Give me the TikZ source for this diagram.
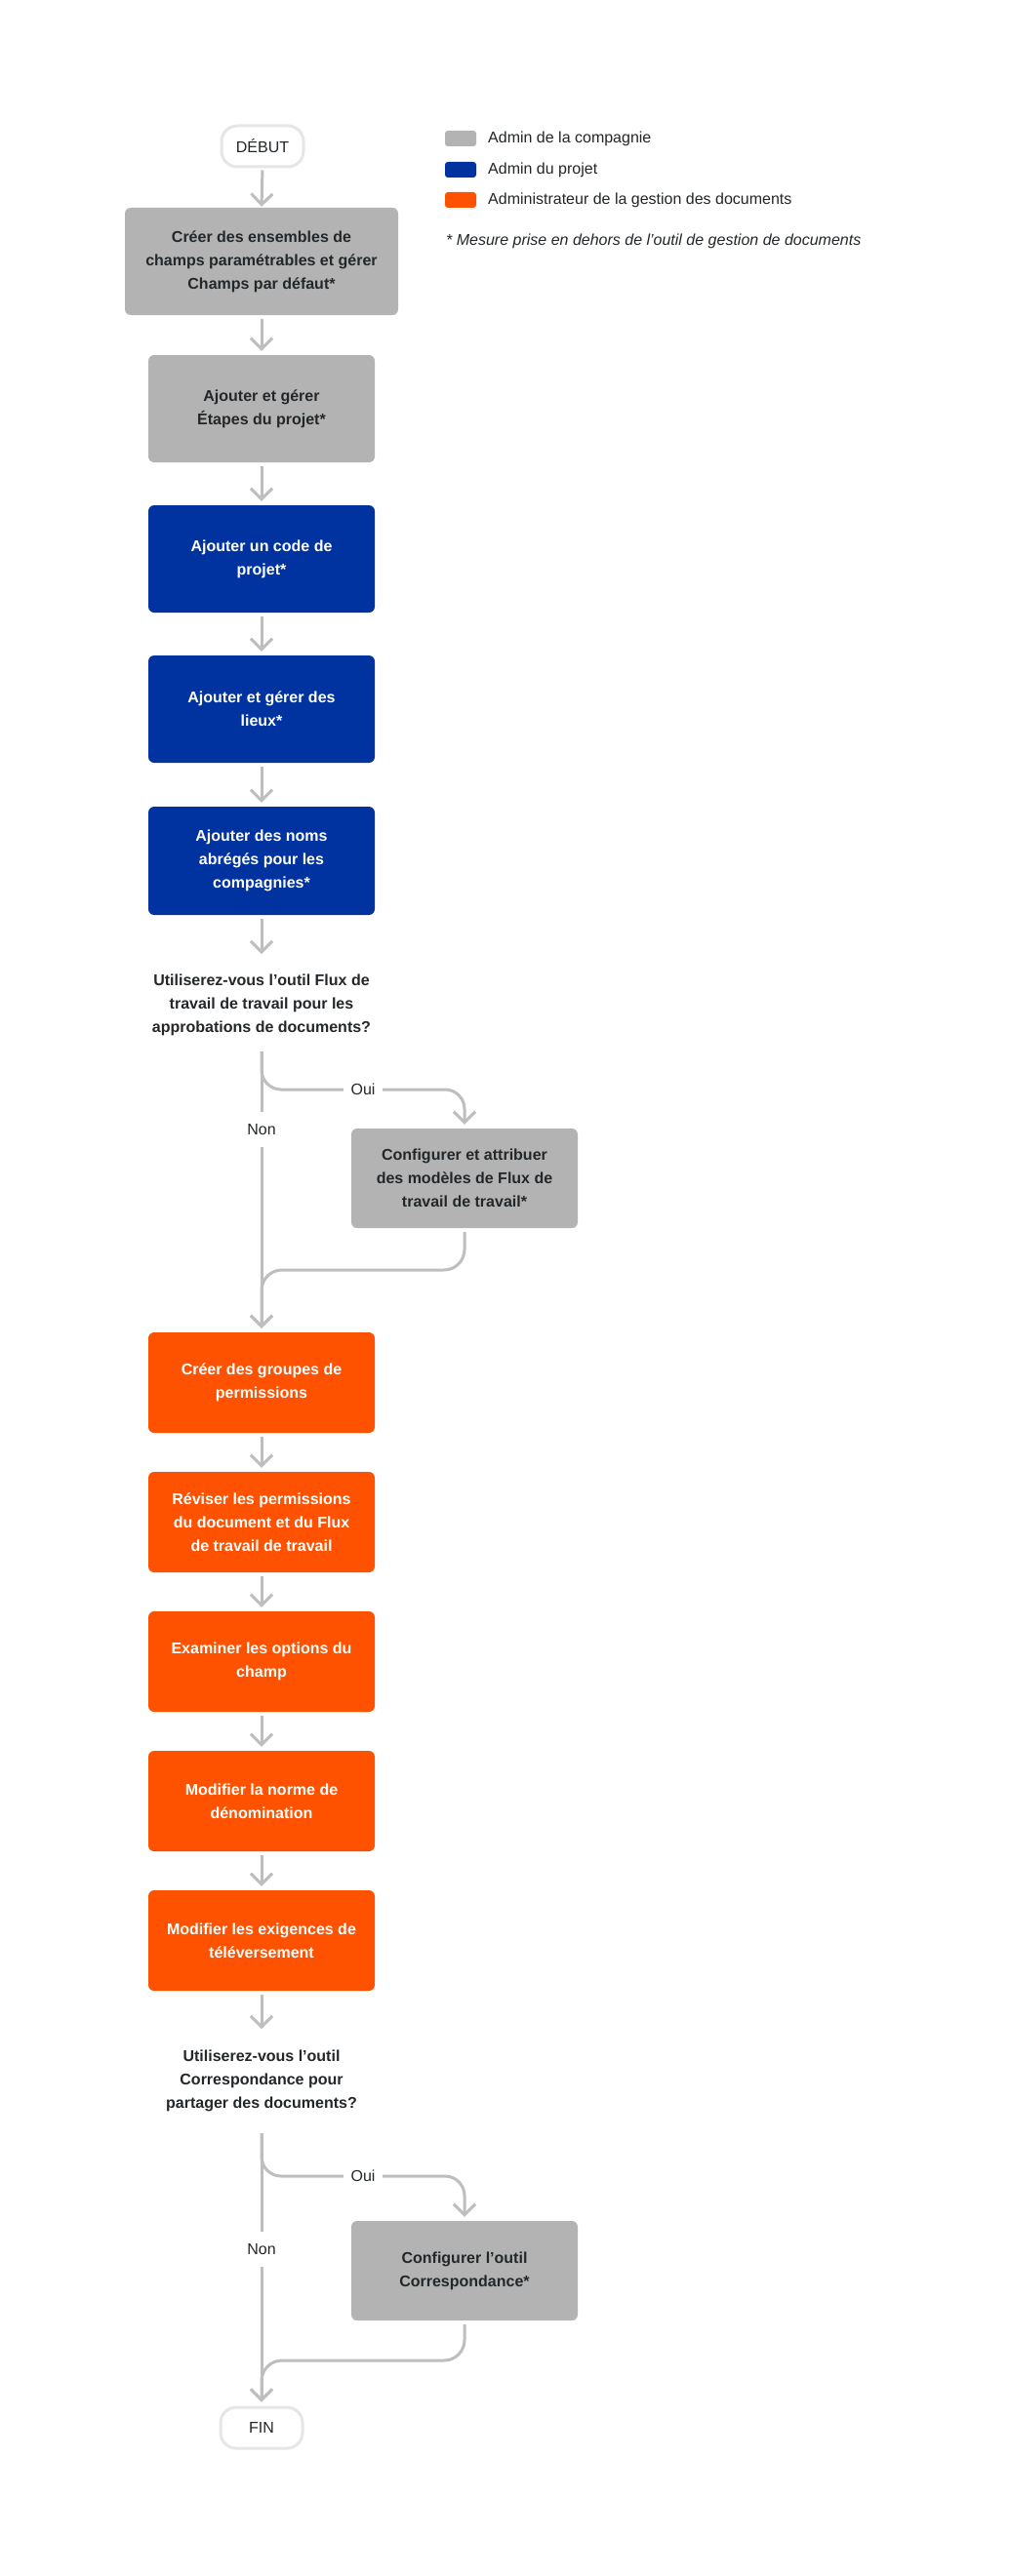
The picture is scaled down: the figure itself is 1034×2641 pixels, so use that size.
\documentclass[tikz,border=0pt]{standalone}
\usepackage{fontspec}
\setmainfont{Liberation Sans}
\usetikzlibrary{arrows.meta,calc}
\definecolor{cgrey}{HTML}{B3B3B3}
\definecolor{cblue}{HTML}{0033A0}
\definecolor{corange}{HTML}{FF5200}
\definecolor{cline}{HTML}{BEBEBE}
\definecolor{ctext}{HTML}{232729}
\definecolor{cterm}{HTML}{E6E6E6}
\tikzset{
  basebox/.style={rectangle, rounded corners=6pt, minimum width=232pt, align=center,
    font=\bfseries\fontsize{16}{24}\selectfont, inner sep=0pt},
  greybox/.style={basebox, fill=cgrey, text=ctext},
  bluebox/.style={basebox, fill=cblue, text=white},
  orangebox/.style={basebox, fill=corange, text=white},
  termbox/.style={rectangle, rounded corners=16pt, draw=cterm, line width=3pt, fill=white,
    minimum width=84pt, minimum height=42pt, font=\fontsize{16}{24}\selectfont, text=ctext},
  question/.style={align=center, font=\bfseries\fontsize{16}{24}\selectfont, text=ctext, inner sep=0pt},
  conn/.style={draw=cline, line width=3pt, -{Straight Barb[length=11pt,width=22pt]}},
  plainconn/.style={draw=cline, line width=3pt},
  lbl/.style={font=\fontsize{16}{24}\selectfont, text=ctext, fill=white},
  legsq/.style={rectangle, rounded corners=3pt, minimum width=32pt, minimum height=16pt, inner sep=0pt},
  legtxt/.style={anchor=west, font=\fontsize{16}{24}\selectfont, text=ctext, inner sep=0pt},
}
\begin{document}
\begin{tikzpicture}[x=1pt,y=-1pt]
\useasboundingbox (0,0) rectangle (1034,2641);
\fill[white] (0,0) rectangle (1034,2641);

% legend
\node[legsq, fill=cgrey] (lg1) at (472,142) {};
\node[legtxt] (lt1) at (500,142) {Admin de la compagnie};
\node[legsq, fill=cblue] (lg2) at (472,174) {};
\node[legtxt] (lt2) at (500,174) {Admin du projet};
\node[legsq, fill=corange] (lg3) at (472,205) {};
\node[legtxt] (lt3) at (500,205) {Administrateur de la gestion des documents};
\node[legtxt, font=\itshape\fontsize{16}{24}\selectfont] (note) at (457,247) {* Mesure prise en dehors de l'outil de gestion de documents};

% terminals
\node[termbox] (debut) at (269,150) {DÉBUT};
\node[termbox] (fin) at (268,2489) {FIN};

% boxes
\node[greybox, minimum width=280pt, minimum height=110pt] (b1) at (268,268)
  {Créer des ensembles de\\champs paramétrables et gérer\\Champs par défaut*};
\node[greybox, minimum height=110pt] (b2) at (268,419) {Ajouter et gérer\\Étapes du projet*};
\node[bluebox, minimum height=110pt] (b3) at (268,573) {Ajouter un code de\\projet*};
\node[bluebox, minimum height=110pt] (b4) at (268,727) {Ajouter et gérer des\\lieux*};
\node[bluebox, minimum height=111pt] (b5) at (268,882.5) {Ajouter des noms\\abrégés pour les\\compagnies*};
\node[question] (q1) at (268,1030) {Utiliserez-vous l'outil Flux de\\travail de travail pour les\\approbations de documents?};
\node[greybox, minimum height=102pt] (b6) at (476,1208) {Configurer et attribuer\\des modèles de Flux de\\travail de travail*};
\node[orangebox, minimum height=103pt] (b7) at (268,1417.5) {Créer des groupes de\\permissions};
\node[orangebox, minimum height=103pt] (b8) at (268,1560.5) {Réviser les permissions\\du document et du Flux\\de travail de travail};
\node[orangebox, minimum height=103pt] (b9) at (268,1703.5) {Examiner les options du\\champ};
\node[orangebox, minimum height=103pt] (b10) at (268,1846.5) {Modifier la norme de\\dénomination};
\node[orangebox, minimum height=103pt] (b11) at (268,1989.5) {Modifier les exigences de\\téléversement};
\node[question] (q2) at (268,2133) {Utiliserez-vous l'outil\\Correspondance pour\\partager des documents?};
\node[greybox, minimum height=102pt] (b12) at (476,2328) {Configurer l'outil\\Correspondance*};

% straight connectors
\draw[conn, shorten <=2pt, shorten >=1pt] (debut.south) -- (b1.north);
\draw[conn, shorten <=4pt, shorten >=4pt] (b1.south) -- (b2.north);
\draw[conn, shorten <=4pt, shorten >=4pt] (b2.south) -- (b3.north);
\draw[conn, shorten <=4pt, shorten >=4pt] (b3.south) -- (b4.north);
\draw[conn, shorten <=4pt, shorten >=4pt] (b4.south) -- (b5.north);
\coordinate (q1in) at (268,978);
\draw[conn, shorten <=4pt] (b5.south) -- (q1in);
\draw[conn, shorten <=4pt, shorten >=4pt] (b7.south) -- (b8.north);
\draw[conn, shorten <=4pt, shorten >=4pt] (b8.south) -- (b9.north);
\draw[conn, shorten <=4pt, shorten >=4pt] (b9.south) -- (b10.north);
\draw[conn, shorten <=4pt, shorten >=4pt] (b10.south) -- (b11.north);
\coordinate (q2in) at (268,2080);
\draw[conn, shorten <=4pt] (b11.south) -- (q2in);

% branch 1
\coordinate (br1) at (268,1078);
\draw[conn, shorten >=4pt] (br1) -- (b7.north);
\draw[conn, rounded corners=20pt, shorten >=4pt] (br1) -- (268,1117) -- (476,1117) -- (b6.north);
\draw[conn, rounded corners=21pt, shorten <=4pt, shorten >=4pt] (b6.south) -- (476,1302) -- (268,1302) -- (b7.north);
\node[lbl, inner xsep=8pt, inner ysep=4pt] (oui1) at (372,1117) {Oui};
\node[lbl, inner xsep=3pt, inner ysep=12pt] (non1) at (268,1158) {Non};

% branch 2
\coordinate (br2) at (268,2187);
\draw[conn, shorten >=4pt] (br2) -- (fin.north);
\draw[conn, rounded corners=20pt, shorten >=4pt] (br2) -- (268,2231) -- (476,2231) -- (b12.north);
\draw[conn, rounded corners=21pt, shorten <=4pt, shorten >=4pt] (b12.south) -- (476,2420) -- (268,2420) -- (fin.north);
\node[lbl, inner xsep=8pt, inner ysep=4pt] (oui2) at (372,2231) {Oui};
\node[lbl, inner xsep=3pt, inner ysep=12pt] (non2) at (268,2306) {Non};
\end{tikzpicture}
\end{document}
